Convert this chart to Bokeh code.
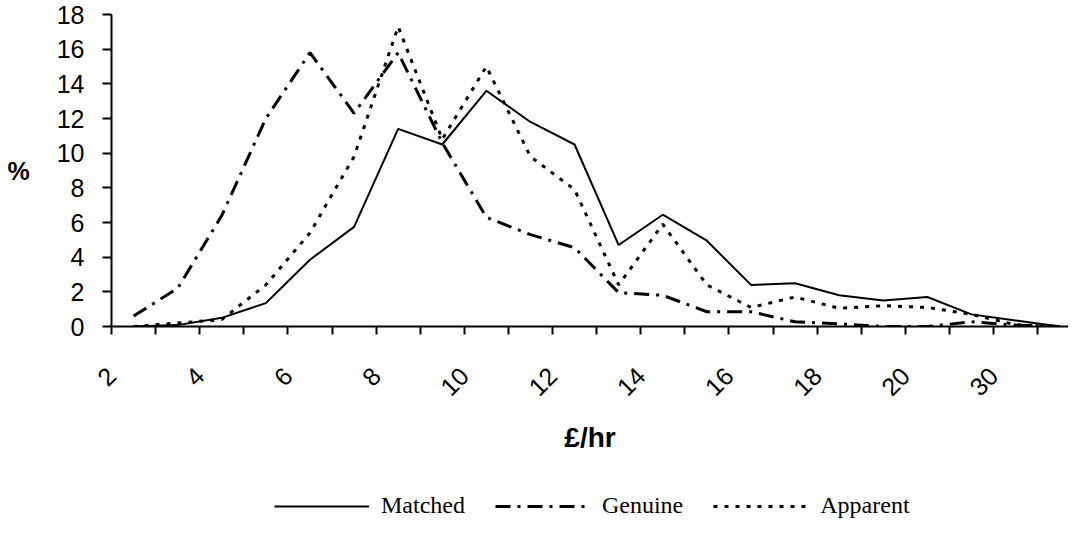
import math
from bokeh.plotting import figure
from bokeh.layouts import column
from bokeh.models import Range1d, FixedTicker, Legend, LegendItem
from bokeh.embed import file_html
from bokeh.resources import INLINE

# x-axis tick labels (every other wage band, £/hr)
tick_labels = ["2", "4", "6", "8", "10", "12", "14", "16", "18", "20", "30"]

# % of workers in each hourly-pay band (22 bands)
matched = [0.0, 0.08, 0.5, 1.35, 3.85, 5.75, 11.4, 10.5, 13.6, 11.8, 10.5,
           4.7, 6.45, 4.95, 2.4, 2.5, 1.8, 1.5, 1.7, 0.7, 0.35, 0.0]
genuine = [0.6, 2.2, 6.4, 12.0, 15.8, 12.3, 15.8, 10.6, 6.3, 5.3, 4.55,
           1.95, 1.8, 0.85, 0.85, 0.27, 0.15, 0.0, 0.0, 0.27, 0.08, 0.0]
apparent = [0.0, 0.2, 0.4, 2.4, 5.4, 9.8, 17.3, 10.8, 15.0, 9.8, 7.9,
            2.4, 5.9, 2.4, 1.1, 1.7, 1.05, 1.2, 1.1, 0.7, 0.1, 0.0]
series_names = ["Matched", "Genuine", "Apparent"]

STYLES = [dict(line_color="black", line_width=2),
          dict(line_color="black", line_width=3, line_dash="15 7 3 7"),
          dict(line_color="black", line_width=3, line_dash="4 7")]

n = len(matched)
xs = [i + 0.5 for i in range(n)]
all_series = [matched, genuine, apparent]

p = figure(width=1068, height=476, output_backend="svg", toolbar_location=None,
           x_range=Range1d(0, 21.7), y_range=Range1d(0, 18),
           min_border_left=111, min_border_top=14, min_border_right=0,
           min_border_bottom=150)
p.outline_line_color = None
p.xgrid.visible = False
p.ygrid.visible = False
p.background_fill_color = "white"

for ys, st in zip(all_series, STYLES):
    p.line(xs, ys, **st)

# y axis
ya = p.yaxis[0]
ya.ticker = FixedTicker(ticks=list(range(0, 19, 2)))
ya.major_tick_out = 9
ya.major_tick_in = 0
ya.minor_tick_out = 0
ya.minor_tick_in = 0
ya.axis_line_width = 2
ya.major_tick_line_width = 2
ya.major_label_text_font = "Liberation Sans"
ya.major_label_text_font_size = "25px"
ya.major_label_text_color = "black"
ya.major_label_standoff = 18
ya.axis_label = "%"
ya.axis_label_text_font = "Liberation Sans"
ya.axis_label_text_font_style = "bold"
ya.axis_label_text_font_size = "25px"
ya.axis_label_text_color = "black"
ya.axis_label_standoff = 24
ya.axis_label_orientation = "horizontal"

# x axis
xa = p.xaxis[0]
xa.ticker = FixedTicker(ticks=list(range(0, 23)))
overrides = {i: "" for i in range(23)}
for k, lab in enumerate(tick_labels):
    overrides[2 * k] = lab
xa.major_label_overrides = overrides
xa.major_label_orientation = math.pi / 4
xa.major_tick_out = 8
xa.major_tick_in = 0
xa.minor_tick_out = 0
xa.minor_tick_in = 0
xa.axis_line_width = 2
xa.major_tick_line_width = 2
xa.major_label_text_font = "Liberation Sans"
xa.major_label_text_font_size = "25px"
xa.major_label_text_color = "black"
xa.major_label_standoff = 37
xa.axis_label = "£/hr"
xa.axis_label_text_font = "Liberation Sans"
xa.axis_label_text_font_style = "bold"
xa.axis_label_text_font_size = "28px"
xa.axis_label_text_color = "black"
xa.axis_label_standoff = 15

# legend strip below the chart (its series lie outside this strip's ranges)
lp = figure(width=1068, height=43, output_backend="svg", toolbar_location=None,
            x_range=Range1d(100, 101), y_range=Range1d(100, 101),
            x_axis_type=None, y_axis_type=None,
            min_border_left=0, min_border_right=0, min_border_top=0, min_border_bottom=0)
lp.outline_line_color = None
lp.xgrid.visible = False
lp.ygrid.visible = False
items = []
for name, ys, st in zip(series_names, all_series, STYLES):
    r = lp.line(xs, ys, **st)
    items.append(LegendItem(label=name, renderers=[r]))
legend = Legend(items=items, orientation="horizontal", location=(163, 0),
                label_text_font="Liberation Serif", label_text_font_size="24px",
                label_text_color="black", label_height=16, label_text_line_height=1.0,
                glyph_width=95, glyph_height=16, spacing=30, label_standoff=12,
                border_line_color=None, background_fill_alpha=0, margin=0, padding=0)
lp.add_layout(legend, "center")

layout = column(p, lp, spacing=0)
open("out.html", "w").write(file_html(layout, INLINE))
